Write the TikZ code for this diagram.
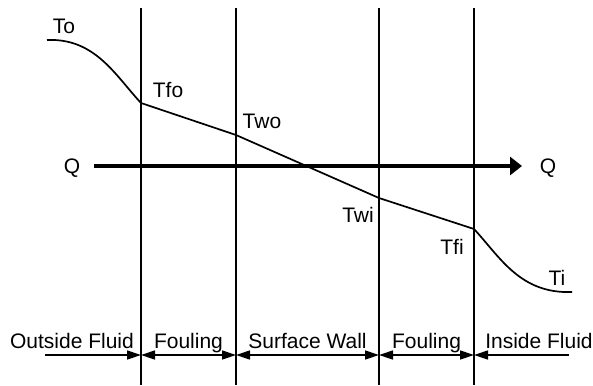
\documentclass[tikz,border=0pt]{standalone}
\usepackage{fontspec}
\setmainfont{Liberation Sans}
\usetikzlibrary{arrows.meta}
\begin{document}
\begin{tikzpicture}[x=1pt,y=-1pt,
  lbl/.style={font=\fontsize{21}{25}\selectfont,inner sep=0pt,anchor=base},
  wall/.style={line width=1.8pt},
  curve/.style={line width=1.7pt},
  flow/.style={line width=3.5pt,-{Triangle[length=12pt,width=18pt]}},
  dim/.style={line width=1.4pt},
  dtip/.tip={Triangle[length=14pt,width=9pt]}]
\useasboundingbox (0,0) rectangle (593,385);
% walls
\foreach \n/\x in {a/141,b/236,c/379,d/474}{
  \coordinate (\n top) at (\x,8);
  \coordinate (\n bot) at (\x,385);
  \draw[wall] (\n top) -- (\n bot);
}
% temperature points
\coordinate (pTo) at (47,40);
\coordinate (pTfo) at (141,103);
\coordinate (pTwo) at (236,135);
\coordinate (pTwi) at (379,198);
\coordinate (pTfi) at (474,229);
\coordinate (pTi) at (572,292);
\draw[curve] (pTo) .. controls (95,38) and (115,75) .. (pTfo) -- (pTwo) -- (pTwi) -- (pTfi)
  .. controls (500,257) and (520,294) .. (pTi);
% heat flow
\coordinate (qs) at (94,166);
\coordinate (qe) at (522,166);
\draw[flow] (qs) -- (qe);
% labels
\node[lbl] (To) at (64,34) {To};
\node[lbl] (Tfo) at (168,97) {Tfo};
\node[lbl] (Two) at (262,128) {Two};
\node[lbl] (QL) at (72,173) {Q};
\node[lbl] (QR) at (548,173) {Q};
\node[lbl] (Twi) at (358,222) {Twi};
\node[lbl] (Tfi) at (452,254) {Tfi};
\node[lbl] (Ti) at (557,285) {Ti};
% bottom dimension arrows
\coordinate (la) at (45,355);
\coordinate (ra) at (569,355);
\coordinate (a355) at (141,355);
\coordinate (b355) at (236,355);
\coordinate (c355) at (379,355);
\coordinate (d355) at (474,355);
\draw[dim,-dtip] (la) -- (a355);
\draw[dim,dtip-dtip] (a355) -- (b355);
\draw[dim,dtip-dtip] (b355) -- (c355);
\draw[dim,dtip-dtip] (c355) -- (d355);
\draw[dim,dtip-] (d355) -- (ra);
\node[lbl] (OF) at (72,348) {Outside Fluid};
\node[lbl] (F1) at (188.5,348) {Fouling};
\node[lbl] (SW) at (307.5,348) {Surface Wall};
\node[lbl] (F2) at (426.5,348) {Fouling};
\node[lbl] (IF) at (539,348) {Inside Fluid};
\end{tikzpicture}
\end{document}
